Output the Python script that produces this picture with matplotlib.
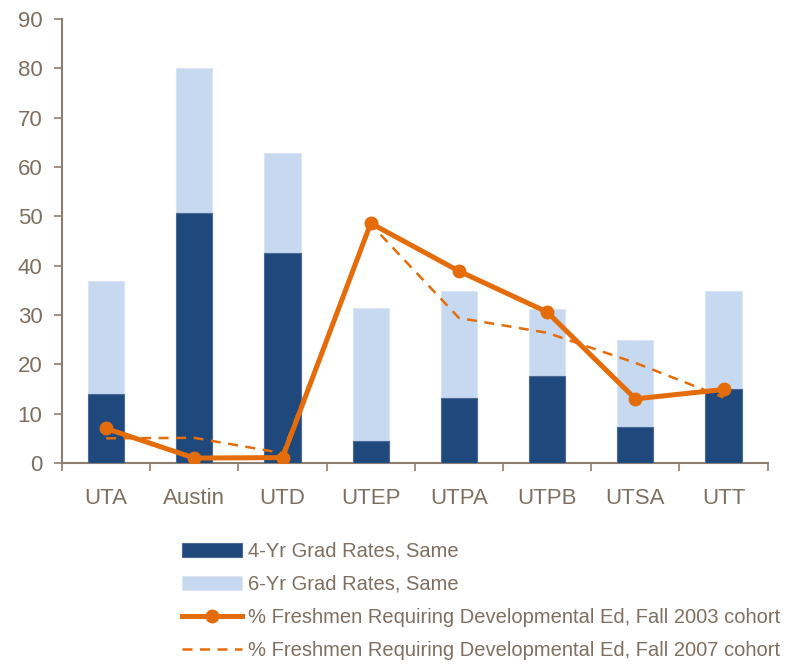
import matplotlib
matplotlib.use("Agg")
import matplotlib.pyplot as plt
import numpy as np

## DATA
schools = ["UTA", "Austin", "UTD", "UTEP", "UTPA", "UTPB", "UTSA", "UTT"]
grad_4yr = [14.0, 50.6, 42.6, 4.5, 13.2, 17.6, 7.3, 15.0]
grad_6yr = [36.9, 80.0, 62.9, 31.5, 34.9, 31.2, 24.9, 34.9]
dev_ed_2003 = [7.0, 1.0, 1.1, 48.6, 38.9, 30.6, 13.0, 14.9]
dev_ed_2007 = [5.0, 5.1, 2.0, 48.4, 29.4, 26.4, 20.3, 13.3]

# colours
dark_blue = "#1F497D"
light_blue = "#C6D9F0"
orange = "#E46C0A"
text_col = "#7F6F60"
axis_col = "#8C7E70"

plt.rcParams['font.family'] = ['Liberation Sans', 'DejaVu Sans']

fig = plt.figure(figsize=(7.98, 6.64), dpi=100)
ax = fig.add_axes([0.0777, 0.3027, 0.8843, 0.6687])

x = np.arange(len(schools))
w = 0.41

b6 = ax.bar(x, grad_6yr, width=w, color=light_blue, edgecolor="#DCE6F2", linewidth=0.8,
            label="6-Yr Grad Rates, Same", zorder=2)
b4 = ax.bar(x, grad_4yr, width=w, color=dark_blue, edgecolor="#4A6A95", linewidth=0.8,
            label="4-Yr Grad Rates, Same", zorder=3)
l03, = ax.plot(x, dev_ed_2003, color=orange, lw=3.6, marker="o", ms=9,
               label="% Freshmen Requiring Developmental Ed, Fall 2003 cohort", zorder=5)
l07, = ax.plot(x, dev_ed_2007, color=orange, lw=1.8, ls=(0, (4, 3)),
               label="% Freshmen Requiring Developmental Ed, Fall 2007 cohort", zorder=4)

ax.set_xlim(-0.5, len(schools) - 0.5)
ax.set_ylim(0, 90)
ax.set_yticks(range(0, 91, 10))

# x tick marks between categories, labels centred
ax.set_xticks(np.arange(-0.5, len(schools), 1.0))
ax.set_xticklabels([])
ax.set_xticks(x, minor=True)
ax.set_xticklabels(schools, minor=True)
ax.tick_params(axis="x", which="major", length=6, width=1.2, color=axis_col, direction="out")
ax.tick_params(axis="x", which="minor", length=0, pad=18, labelsize=16, labelcolor=text_col)
ax.tick_params(axis="y", length=6, width=1.2, color=axis_col, direction="out",
               labelsize=16, labelcolor=text_col, pad=8)

for s in ["top", "right"]:
    ax.spines[s].set_visible(False)
for s in ["left", "bottom"]:
    ax.spines[s].set_color(axis_col)
    ax.spines[s].set_linewidth(1.5)

fig.legend([b4, b6, l03, l07], [h.get_label() for h in [b4, b6, l03, l07]],
           loc="upper left", bbox_to_anchor=(0.228, 0.184), frameon=False,
           fontsize=14.5, labelcolor=text_col, handlelength=3.0, handletextpad=0.3,
           labelspacing=0.7, borderaxespad=0, borderpad=0)

fig.savefig("out.png", dpi=100)
